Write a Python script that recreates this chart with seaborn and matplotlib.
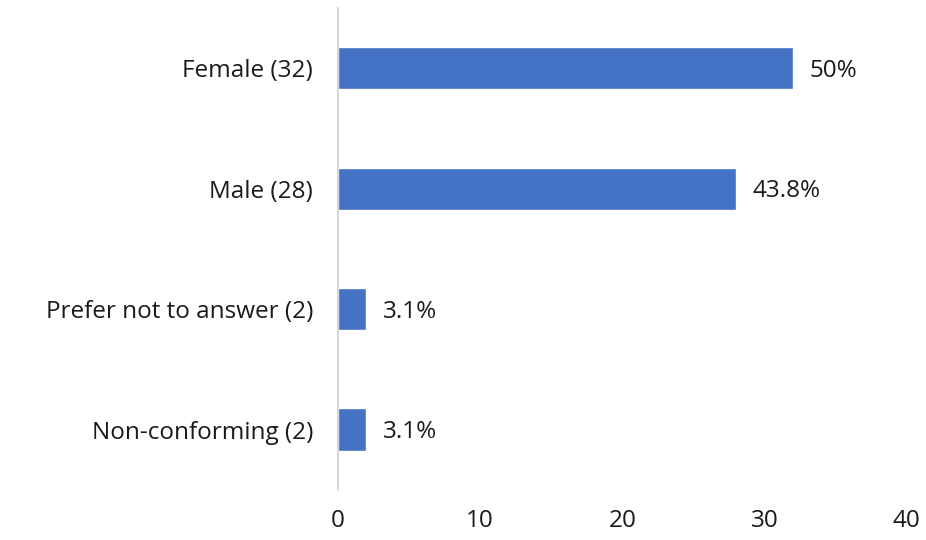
import matplotlib
matplotlib.use("Agg")
import matplotlib.pyplot as plt
import seaborn as sns
import pandas as pd

# Survey data: gender breakdown
categories = ["Female (32)", "Male (28)", "Prefer not to answer (2)", "Non-conforming (2)"]
counts = [32, 28, 2, 2]
pct_labels = ["50%", "43.8%", "3.1%", "3.1%"]
x_ticks = [0, 10, 20, 30, 40]

sns.set_style("white")
plt.rcParams['font.family'] = ['Open Sans', 'DejaVu Sans']

df = pd.DataFrame({"category": categories, "count": counts})

fig = plt.figure(figsize=(9.26, 5.4), dpi=100)
ax = fig.add_axes([0.365, 0.093, 0.614, 0.892])

sns.barplot(data=df, x="count", y="category", color="#4472C4", width=0.35,
            saturation=1, ax=ax)

# percentage labels next to each bar
for i, (v, lab) in enumerate(zip(counts, pct_labels)):
    ax.text(v + 1.15, i + 0.02, lab, va="center", ha="left", fontsize=17.5, color="#1a1a1a")

ax.set_xlim(0, 40)
ax.set_ylim(3.5, -0.5)
ax.set_xticks(x_ticks)
ax.set_xlabel("")
ax.set_ylabel("")
ax.tick_params(axis="both", length=0, labelsize=17.5, colors="#1a1a1a")
ax.tick_params(axis="y", pad=18)
ax.tick_params(axis="x", pad=14)

for s in ["top", "right", "bottom"]:
    ax.spines[s].set_visible(False)
ax.spines["left"].set_color("#d0d0d0")
ax.spines["left"].set_linewidth(1.2)

fig.savefig("out.png", dpi=100)
